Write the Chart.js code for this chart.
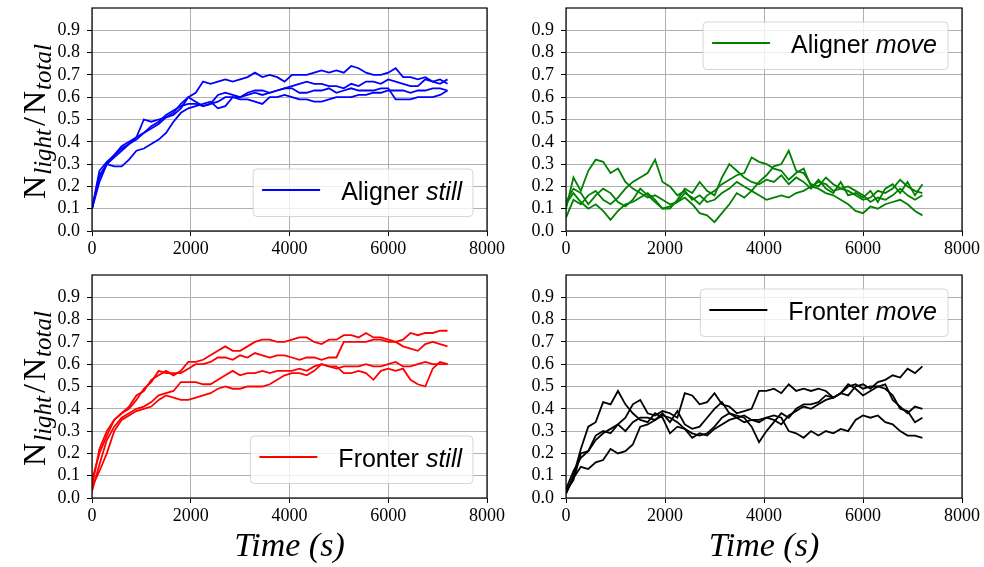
<!DOCTYPE html>
<html>
<head>
<meta charset="utf-8">
<script src="https://cdn.jsdelivr.net/npm/chart.js@4.4.1/dist/chart.umd.min.js"></script>
<style>
  body { margin: 0; background: #fff; width: 984px; height: 567px; overflow: hidden; }
  canvas { position: absolute; left: 0; top: 0; }
</style>
</head>
<body>
<canvas id="c0" width="984" height="567"></canvas>
<canvas id="c1" width="984" height="567"></canvas>
<canvas id="c2" width="984" height="567"></canvas>
<canvas id="c3" width="984" height="567"></canvas>
<script>
// sample times (s), shared by every run
const times = [0,150,300,450,600,750,900,1050,1200,1350,
  1500,1650,1800,1950,2100,2250,2400,2550,2700,2850,
  3000,3150,3300,3450,3600,3750,3900,4050,4200,4350,
  4500,4650,4800,4950,5100,5250,5400,5550,5700,5850,
  6000,6150,6300,6450,6600,6750,6900,7050,7200];

// N_light / N_total, 4 runs per panel
const alignerStill = [
  [0.10,0.27,0.31,0.34,0.37,0.39,0.42,0.50,0.49,0.50,
   0.51,0.53,0.57,0.60,0.62,0.67,0.66,0.67,0.68,0.67,
   0.68,0.69,0.71,0.69,0.70,0.69,0.67,0.70,0.70,0.70,
   0.71,0.72,0.71,0.72,0.71,0.74,0.73,0.71,0.70,0.70,
   0.71,0.73,0.69,0.69,0.68,0.69,0.67,0.66,0.68],
  [0.10,0.24,0.30,0.33,0.36,0.39,0.41,0.44,0.46,0.48,
   0.51,0.52,0.55,0.60,0.58,0.56,0.57,0.61,0.62,0.61,
   0.60,0.62,0.63,0.63,0.62,0.63,0.64,0.65,0.66,0.67,
   0.66,0.66,0.65,0.65,0.64,0.66,0.65,0.67,0.67,0.66,
   0.68,0.67,0.66,0.65,0.65,0.68,0.67,0.68,0.66],
  [0.10,0.22,0.30,0.34,0.38,0.40,0.42,0.44,0.47,0.49,
   0.52,0.54,0.56,0.57,0.57,0.56,0.57,0.58,0.60,0.60,
   0.60,0.61,0.62,0.61,0.62,0.63,0.64,0.64,0.62,0.62,
   0.63,0.63,0.64,0.62,0.63,0.64,0.63,0.63,0.63,0.64,
   0.64,0.59,0.59,0.59,0.60,0.60,0.60,0.61,0.63],
  [0.10,0.25,0.30,0.29,0.29,0.32,0.36,0.37,0.39,0.41,
   0.44,0.49,0.53,0.55,0.56,0.57,0.58,0.55,0.56,0.60,
   0.59,0.59,0.58,0.57,0.60,0.60,0.61,0.60,0.59,0.59,
   0.58,0.58,0.59,0.60,0.60,0.60,0.61,0.61,0.62,0.62,
   0.63,0.63,0.63,0.62,0.63,0.63,0.64,0.64,0.63]
];
const alignerMove = [
  [0.10,0.24,0.18,0.27,0.32,0.31,0.26,0.28,0.22,0.19,
   0.17,0.15,0.16,0.14,0.12,0.13,0.17,0.15,0.12,0.16,
   0.18,0.21,0.23,0.25,0.26,0.33,0.31,0.30,0.28,0.27,
   0.23,0.26,0.28,0.20,0.22,0.21,0.18,0.19,0.18,0.16,
   0.14,0.15,0.18,0.17,0.19,0.23,0.20,0.18,0.17],
  [0.06,0.14,0.12,0.16,0.18,0.14,0.12,0.15,0.19,0.22,
   0.24,0.26,0.32,0.22,0.20,0.16,0.18,0.14,0.16,0.13,
   0.14,0.17,0.19,0.22,0.20,0.18,0.22,0.25,0.29,0.30,
   0.36,0.27,0.26,0.21,0.20,0.24,0.21,0.19,0.20,0.18,
   0.16,0.13,0.15,0.14,0.16,0.19,0.16,0.14,0.16],
  [0.12,0.17,0.13,0.10,0.12,0.09,0.05,0.09,0.12,0.13,
   0.15,0.17,0.14,0.10,0.11,0.13,0.15,0.12,0.08,0.07,
   0.04,0.08,0.12,0.17,0.15,0.18,0.16,0.14,0.15,0.16,
   0.15,0.17,0.18,0.20,0.19,0.17,0.16,0.14,0.12,0.09,
   0.08,0.11,0.10,0.12,0.13,0.14,0.12,0.09,0.07],
  [0.13,0.19,0.17,0.12,0.16,0.19,0.17,0.13,0.11,0.14,
   0.19,0.16,0.13,0.10,0.10,0.14,0.19,0.17,0.22,0.18,
   0.16,0.24,0.30,0.27,0.24,0.22,0.21,0.23,0.22,0.25,
   0.21,0.24,0.22,0.19,0.23,0.19,0.17,0.22,0.16,0.17,
   0.15,0.18,0.13,0.19,0.21,0.17,0.22,0.16,0.21]
];
const fronterStill = [
  [0.05,0.22,0.30,0.35,0.38,0.41,0.46,0.48,0.53,0.55,
   0.57,0.55,0.57,0.61,0.61,0.62,0.64,0.66,0.68,0.66,
   0.66,0.68,0.70,0.71,0.71,0.70,0.70,0.71,0.72,0.72,
   0.70,0.69,0.71,0.71,0.73,0.73,0.72,0.74,0.72,0.72,
   0.71,0.70,0.68,0.67,0.66,0.69,0.70,0.69,0.68],
  [0.08,0.20,0.28,0.35,0.38,0.40,0.44,0.49,0.52,0.57,
   0.56,0.56,0.56,0.58,0.60,0.60,0.61,0.63,0.63,0.62,
   0.64,0.63,0.65,0.64,0.63,0.64,0.64,0.63,0.62,0.63,
   0.63,0.62,0.63,0.63,0.70,0.70,0.70,0.70,0.71,0.71,
   0.70,0.70,0.71,0.74,0.73,0.74,0.74,0.75,0.75],
  [0.03,0.15,0.26,0.32,0.36,0.38,0.40,0.41,0.43,0.46,
   0.47,0.48,0.52,0.52,0.52,0.51,0.51,0.53,0.55,0.57,
   0.55,0.56,0.56,0.57,0.56,0.57,0.57,0.57,0.58,0.57,
   0.59,0.60,0.59,0.59,0.56,0.56,0.57,0.56,0.53,0.57,
   0.58,0.57,0.58,0.53,0.51,0.50,0.58,0.61,0.60],
  [0.05,0.12,0.20,0.30,0.35,0.37,0.39,0.40,0.41,0.44,
   0.46,0.45,0.44,0.44,0.45,0.46,0.47,0.49,0.50,0.49,
   0.49,0.50,0.50,0.50,0.51,0.53,0.55,0.56,0.56,0.55,
   0.57,0.60,0.59,0.58,0.59,0.59,0.59,0.60,0.59,0.59,
   0.60,0.61,0.59,0.59,0.60,0.61,0.60,0.60,0.60]
];
const fronterMove = [
  [0.02,0.10,0.22,0.32,0.34,0.43,0.42,0.48,0.42,0.38,
   0.35,0.34,0.38,0.36,0.29,0.32,0.31,0.29,0.28,0.29,
   0.32,0.36,0.38,0.37,0.36,0.32,0.25,0.30,0.34,0.38,
   0.36,0.40,0.42,0.42,0.43,0.46,0.45,0.47,0.50,0.51,
   0.49,0.50,0.50,0.51,0.44,0.41,0.38,0.41,0.40],
  [0.03,0.08,0.20,0.21,0.28,0.30,0.29,0.33,0.36,0.42,
   0.44,0.38,0.37,0.39,0.38,0.36,0.47,0.46,0.42,0.43,
   0.47,0.42,0.41,0.38,0.39,0.40,0.48,0.48,0.49,0.47,
   0.51,0.48,0.49,0.48,0.49,0.48,0.45,0.47,0.46,0.50,
   0.51,0.49,0.52,0.53,0.55,0.54,0.58,0.56,0.59],
  [0.02,0.09,0.14,0.13,0.16,0.17,0.22,0.20,0.21,0.24,
   0.32,0.33,0.35,0.38,0.34,0.39,0.33,0.31,0.32,0.36,
   0.40,0.43,0.38,0.36,0.37,0.35,0.34,0.36,0.35,0.33,
   0.37,0.39,0.41,0.40,0.42,0.44,0.45,0.47,0.51,0.49,
   0.46,0.48,0.50,0.49,0.46,0.40,0.39,0.34,0.36],
  [0.04,0.12,0.18,0.21,0.26,0.29,0.31,0.33,0.30,0.34,
   0.36,0.36,0.35,0.37,0.36,0.34,0.31,0.27,0.29,0.28,
   0.31,0.33,0.35,0.36,0.34,0.35,0.35,0.36,0.37,0.36,
   0.30,0.29,0.27,0.30,0.28,0.30,0.29,0.31,0.30,0.35,
   0.37,0.36,0.37,0.34,0.33,0.30,0.28,0.28,0.27]
];

const xTicks = [0, 2000, 4000, 6000, 8000];
const yTickLabels = ['0.0','0.1','0.2','0.3','0.4','0.5','0.6','0.7','0.8','0.9'];

const W = 984, H = 567, YW = 60;
const panels = [
  { id: 'c0', runs: alignerStill, color: '#0000ff', name: 'Aligner', mode: 'still',
    area: { left: 92, top: 8, right: 487, bottom: 231 }, legendTop: false, xTitle: false, yTitle: true },
  { id: 'c1', runs: alignerMove, color: '#008000', name: 'Aligner', mode: 'move',
    area: { left: 566, top: 8, right: 962, bottom: 231 }, legendTop: true, xTitle: false, yTitle: false },
  { id: 'c2', runs: fronterStill, color: '#ff0000', name: 'Fronter', mode: 'still',
    area: { left: 92, top: 275, right: 487, bottom: 498 }, legendTop: false, xTitle: true, yTitle: true },
  { id: 'c3', runs: fronterMove, color: '#000000', name: 'Fronter', mode: 'move',
    area: { left: 566, top: 275, right: 962, bottom: 498 }, legendTop: true, xTitle: true, yTitle: false }
];

// spines, legend box with italic word, and the subscripted y label
const panelDeco = {
  id: 'panelDeco',
  afterDatasetsDraw(chart, args, o) {
    const ctx = chart.ctx, a = chart.chartArea;
    ctx.save();
    ctx.strokeStyle = '#000';
    ctx.lineWidth = 1.2;
    ctx.strokeRect(a.left, a.top, a.right - a.left, a.bottom - a.top);
    ctx.restore();
  },
  afterDraw(chart, args, o) {
    const ctx = chart.ctx, a = chart.chartArea;
    ctx.save();
    // legend
    const fn = '25px "Liberation Sans"', fi = 'italic 25px "Liberation Sans"';
    ctx.font = fn;
    const w1 = ctx.measureText(o.name + ' ').width;
    ctx.font = fi;
    const w2 = ctx.measureText(o.mode).width;
    const bw = 9 + 58 + 21 + w1 + w2 + 11, bh = 47.5;
    const x0 = a.right - 14 - bw;
    const y0 = o.legendTop ? a.top + 14 : a.bottom - 14.5 - bh;
    const r = 4;
    ctx.beginPath();
    ctx.moveTo(x0 + r, y0);
    ctx.lineTo(x0 + bw - r, y0);
    ctx.arcTo(x0 + bw, y0, x0 + bw, y0 + r, r);
    ctx.lineTo(x0 + bw, y0 + bh - r);
    ctx.arcTo(x0 + bw, y0 + bh, x0 + bw - r, y0 + bh, r);
    ctx.lineTo(x0 + r, y0 + bh);
    ctx.arcTo(x0, y0 + bh, x0, y0 + bh - r, r);
    ctx.lineTo(x0, y0 + r);
    ctx.arcTo(x0, y0, x0 + r, y0, r);
    ctx.closePath();
    ctx.fillStyle = 'rgba(255,255,255,0.8)';
    ctx.fill();
    ctx.strokeStyle = 'rgba(204,204,204,0.8)';
    ctx.lineWidth = 1;
    ctx.stroke();
    const ly = y0 + 21;
    ctx.beginPath();
    ctx.moveTo(x0 + 9, ly);
    ctx.lineTo(x0 + 67, ly);
    ctx.strokeStyle = o.color;
    ctx.lineWidth = 2;
    ctx.stroke();
    ctx.fillStyle = '#000';
    ctx.textBaseline = 'alphabetic';
    ctx.font = fn;
    ctx.fillText(o.name + ' ', x0 + 88, ly + 9.5);
    ctx.font = fi;
    ctx.fillText(o.mode, x0 + 88 + w1, ly + 9.5);

    // y axis label N_light / N_total
    if (o.yTitle) {
      const big = '32px "Liberation Serif"', sub = 'italic 25px "Liberation Serif"';
      // [text, font, baseline shift, gap before, gap after]
      const parts = [['N', big, 0, 0, 1], ['light', sub, 6, 0, 3], ['/', big, 0, 0, 3],
                     ['N', big, 0, 0, 1], ['total', sub, 6, 0, 0]];
      let total = 0;
      parts.forEach(p => { ctx.font = p[1]; p.push(ctx.measureText(p[0]).width); total += p[3] + p[5] + p[4]; });
      ctx.translate(45, (a.top + a.bottom) / 2 + 2);
      ctx.rotate(-Math.PI / 2);
      let x = -total / 2;
      parts.forEach(p => {
        ctx.font = p[1];
        x += p[3];
        ctx.fillText(p[0], x, p[2]);
        x += p[5] + p[4];
      });
    }
    ctx.restore();
  }
};

panels.forEach(p => {
  const datasets = p.runs.map(run => ({
    data: run.map((v, i) => ({ x: times[i], y: v })),
    borderColor: p.color,
    borderWidth: 1.8,
    pointRadius: 0,
    fill: false,
    tension: 0
  }));
  new Chart(document.getElementById(p.id), {
    type: 'line',
    data: { datasets },
    options: {
      responsive: false,
      animation: false,
      devicePixelRatio: 1,
      layout: { padding: { left: p.area.left - YW, top: p.area.top, right: W - p.area.right, bottom: 0 } },
      plugins: {
        legend: { display: false },
        tooltip: { enabled: false },
        panelDeco: { name: p.name, mode: p.mode, color: p.color, legendTop: p.legendTop, yTitle: p.yTitle }
      },
      scales: {
        x: {
          type: 'linear', min: 0, max: 8000,
          afterBuildTicks: s => { s.ticks = xTicks.map(v => ({ value: v })); },
          afterFit: s => { s.height = H - p.area.bottom; s.paddingLeft = 0; s.paddingRight = 0; },
          grid: { color: '#b0b0b0', lineWidth: 1, tickLength: 5, tickColor: '#000' },
          border: { display: false },
          ticks: {
            autoSkip: false, maxRotation: 0, padding: 2, color: '#000',
            font: { family: 'Liberation Serif', size: 18 },
            callback: v => String(v)
          },
          title: {
            display: p.xTitle, text: 'Time (s)', color: '#000',
            font: { family: 'Liberation Serif', size: 34, style: 'italic' },
            padding: { top: 0, bottom: 0 }
          }
        },
        y: {
          type: 'linear', min: 0, max: 1,
          afterBuildTicks: s => { s.ticks = yTickLabels.map(t => ({ value: parseFloat(t) })); },
          afterFit: s => { s.width = YW; s.paddingTop = 0; s.paddingBottom = 0; },
          grid: { color: '#b0b0b0', lineWidth: 1, tickLength: 5, tickColor: '#000' },
          border: { display: false },
          ticks: {
            autoSkip: false, padding: 7, color: '#000',
            font: { family: 'Liberation Serif', size: 18 },
            callback: v => v.toFixed(1)
          }
        }
      }
    },
    plugins: [panelDeco]
  });
});
</script>
</body>
</html>
